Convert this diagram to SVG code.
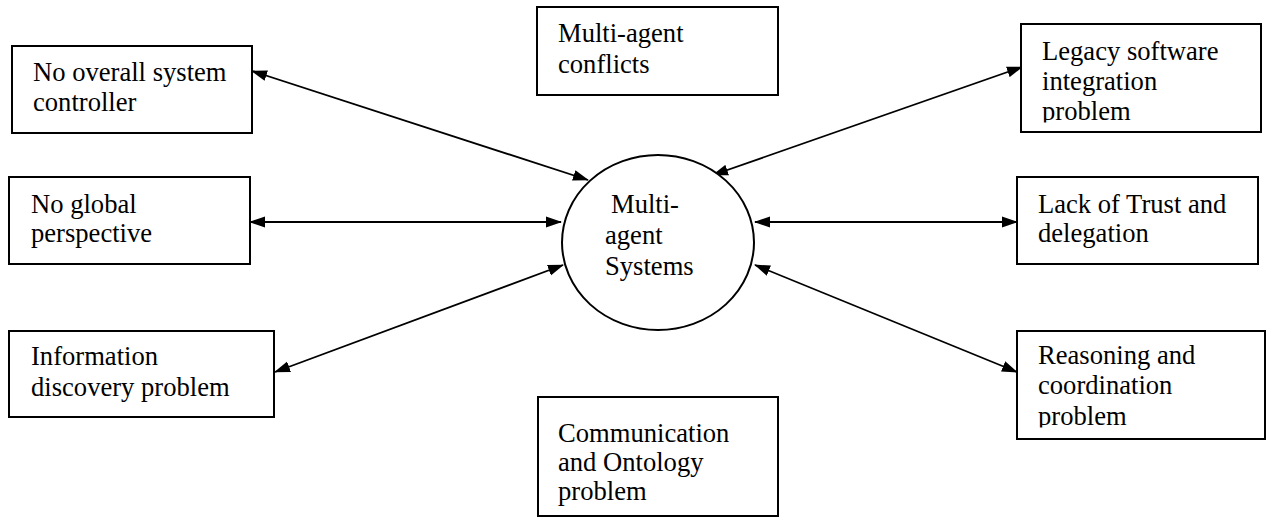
<svg xmlns="http://www.w3.org/2000/svg" width="1268" height="518" viewBox="0 0 1268 518">
<style>
.box{fill:#fff;stroke:#000;stroke-width:2}
.t{font-family:"Liberation Serif","Times New Roman",serif;font-size:26.6px;fill:#000}
.c{stroke:#000;stroke-width:1.8;fill:none;marker-start:url(#ah);marker-end:url(#ah)}
</style>
<defs>
<marker id="ah" markerUnits="userSpaceOnUse" markerWidth="16" markerHeight="12" refX="15" refY="6" orient="auto-start-reverse" viewBox="0 0 16 12">
<path d="M0,0.5 L16,6 L0,11.5 z" fill="#000"/>
</marker>
<clipPath id="clipLegacy"><rect x="1021" y="24" width="240" height="98.5"/></clipPath>
<clipPath id="clipReason"><rect x="1017" y="331" width="250" height="96.5"/></clipPath>
</defs>
<g id="connectors">
<line class="c" x1="252" y1="71" x2="588" y2="180"/>
<line class="c" x1="250" y1="222" x2="561" y2="222"/>
<line class="c" x1="275" y1="372" x2="563" y2="265"/>
<line class="c" x1="713" y1="175" x2="1022" y2="67"/>
<line class="c" x1="755" y1="222" x2="1017" y2="222"/>
<line class="c" x1="755" y1="265" x2="1017" y2="372"/>
</g>
<g id="center">
<ellipse cx="658" cy="242.5" rx="96" ry="87.5" fill="#fff" stroke="#000" stroke-width="2"/>
<text class="t" x="611" y="213">Multi-</text>
<text class="t" x="605" y="244">agent</text>
<text class="t" x="605" y="275">Systems</text>
</g>
<g id="no-overall-controller">
<rect class="box" x="12" y="46" width="240" height="87"/>
<text class="t" x="33" y="81">No overall system</text>
<text class="t" x="33" y="111">controller</text>
</g>
<g id="no-global-perspective">
<rect class="box" x="9" y="177" width="241" height="87"/>
<text class="t" x="31" y="213">No global</text>
<text class="t" x="31" y="242">perspective</text>
</g>
<g id="information-discovery">
<rect class="box" x="9" y="331" width="265" height="86"/>
<text class="t" x="31" y="365">Information</text>
<text class="t" x="31" y="396">discovery problem</text>
</g>
<g id="multi-agent-conflicts">
<rect class="box" x="537" y="7" width="241" height="88"/>
<text class="t" x="558" y="42">Multi-agent</text>
<text class="t" x="558" y="73">conflicts</text>
</g>
<g id="communication-ontology">
<rect class="box" x="538" y="397" width="240" height="119"/>
<text class="t" x="558" y="442">Communication</text>
<text class="t" x="558" y="471">and Ontology</text>
<text class="t" x="558" y="500">problem</text>
</g>
<g id="legacy-software">
<rect class="box" x="1021" y="24" width="240" height="108"/>
<g clip-path="url(#clipLegacy)">
<text class="t" x="1042" y="60">Legacy software</text>
<text class="t" x="1042" y="90">integration</text>
<text class="t" x="1042" y="120">problem</text>
</g>
</g>
<g id="lack-of-trust">
<rect class="box" x="1017" y="177" width="241" height="87"/>
<text class="t" x="1038" y="213">Lack of Trust and</text>
<text class="t" x="1038" y="242">delegation</text>
</g>
<g id="reasoning-coordination">
<rect class="box" x="1017" y="331" width="248" height="108"/>
<g clip-path="url(#clipReason)">
<text class="t" x="1038" y="364">Reasoning and</text>
<text class="t" x="1038" y="394">coordination</text>
<text class="t" x="1038" y="425">problem</text>
</g>
</g>
</svg>
